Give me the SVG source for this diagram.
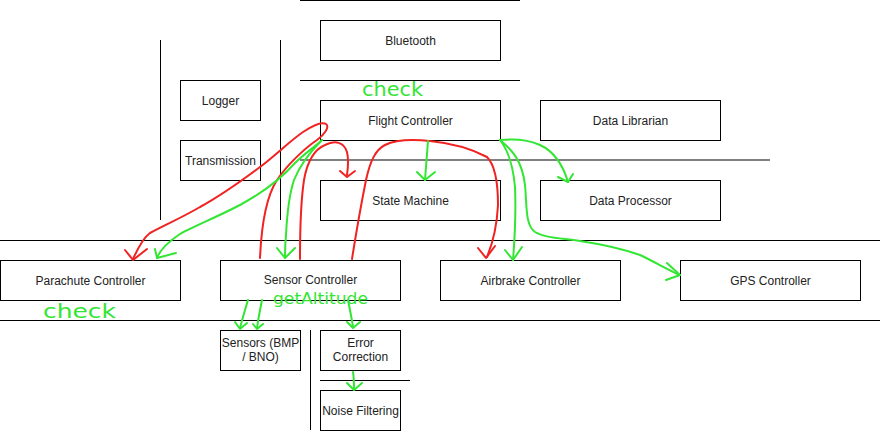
<svg xmlns="http://www.w3.org/2000/svg" width="882" height="432" viewBox="0 0 882 432">
<style>
.box{fill:#fff;stroke:#000;stroke-width:1}
.lbl{font-family:"Liberation Sans",Arial,sans-serif;font-size:12px;fill:#222;text-anchor:middle}
.sep{stroke:#000;stroke-width:1;fill:none}
.gsep{stroke:#808080;stroke-width:2;fill:none}
.r{stroke:#f02222;stroke-width:2;fill:none;stroke-linecap:round;stroke-linejoin:round}
.g{stroke:#33e633;stroke-width:2;fill:none;stroke-linecap:round;stroke-linejoin:round}
.hand{font-family:"DejaVu Sans",sans-serif;fill:#33e633;font-weight:normal}
</style>
<rect width="882" height="432" fill="#fff"/>
<g id="separators">
<line class="sep" x1="300" y1="0.5" x2="520" y2="0.5"/>
<line class="sep" x1="300" y1="80.5" x2="520" y2="80.5"/>
<line class="sep" x1="160.5" y1="40" x2="160.5" y2="220"/>
<line class="sep" x1="280.5" y1="40" x2="280.5" y2="220"/>
<line class="gsep" x1="300" y1="160" x2="770" y2="160"/>
<line class="sep" x1="0" y1="240.5" x2="880" y2="240.5"/>
<line class="sep" x1="0" y1="320.5" x2="880" y2="320.5"/>
<line class="sep" x1="310.5" y1="330" x2="310.5" y2="430"/>
<line class="sep" x1="320" y1="380.5" x2="410" y2="380.5"/>
</g>
<g id="bluetooth"><rect class="box" x="320.5" y="20.5" width="180" height="40"/><text class="lbl" x="410.5" y="45">Bluetooth</text></g>
<g id="logger"><rect class="box" x="180.5" y="80.5" width="80" height="40"/><text class="lbl" x="220.5" y="105">Logger</text></g>
<g id="transmission"><rect class="box" x="180.5" y="140.5" width="80" height="40"/><text class="lbl" x="220.5" y="165">Transmission</text></g>
<g id="flight-controller"><rect class="box" x="320.5" y="100.5" width="180" height="40"/><text class="lbl" x="410.5" y="125">Flight Controller</text></g>
<g id="data-librarian"><rect class="box" x="540.5" y="100.5" width="180" height="40"/><text class="lbl" x="630.5" y="125">Data Librarian</text></g>
<g id="state-machine"><rect class="box" x="320.5" y="180.5" width="180" height="40"/><text class="lbl" x="410.5" y="205">State Machine</text></g>
<g id="data-processor"><rect class="box" x="540.5" y="180.5" width="180" height="40"/><text class="lbl" x="630.5" y="205">Data Processor</text></g>
<g id="parachute-controller"><rect class="box" x="0.5" y="260.5" width="180" height="40"/><text class="lbl" x="90.5" y="285">Parachute Controller</text></g>
<g id="sensor-controller"><rect class="box" x="220.5" y="260.5" width="180" height="40"/><text class="lbl" x="310.5" y="284">Sensor Controller</text></g>
<g id="airbrake-controller"><rect class="box" x="440.5" y="260.5" width="180" height="40"/><text class="lbl" x="530.5" y="285">Airbrake Controller</text></g>
<g id="gps-controller"><rect class="box" x="680.5" y="260.5" width="180" height="40"/><text class="lbl" x="770.5" y="285">GPS Controller</text></g>
<g id="sensors"><rect class="box" x="220.5" y="330.5" width="80" height="40"/><text class="lbl" x="260.5" y="347">Sensors (BMP</text><text class="lbl" x="260.5" y="361">/ BNO)</text></g>
<g id="error-correction"><rect class="box" x="320.5" y="330.5" width="80" height="40"/><text class="lbl" x="360.5" y="347">Error</text><text class="lbl" x="360.5" y="361">Correction</text></g>
<g id="noise-filtering"><rect class="box" x="320.5" y="390.5" width="80" height="40"/><text class="lbl" x="360.5" y="415">Noise Filtering</text></g>
<g id="connectors">
<path class="r" d="M260,258 C261,235 264,200 277,180 C287,165 305,148 317,140 C324,135 330,127 326,124 C321,121 312,126 303,132 C290,141 277,154 260,167 C240,182 220,196 200,207 C183,217 165,225 150,233 C143,238 138,248 133,259"/>
<polyline class="r" points="125,250 133,260 147,249"/>
<path class="r" d="M300,259 C300,230 301,200 304,180 C307,163 313,150 325,145 C335,140 344,142 347,152 C349,160 348,168 347,175"/>
<polyline class="r" points="340,171 347,177 355,171"/>
<path class="r" d="M352,259 C355,240 360,210 366,180 C370,162 375,150 385,145 C395,140 410,139 430,141 C450,143 470,148 487,157 C496,166 498,185 498,205 C497,225 492,245 487,257"/>
<polyline class="r" points="478,248 486,258 495,246"/>
<path class="g" d="M322,140 C316,146 305,153 295,163 C280,180 262,193 240,205 C215,218 190,228 180,234 C168,242 160,250 157,258"/>
<polyline class="g" points="155,249 157,258 176,253"/>
<path class="g" d="M322,140 C312,150 300,165 294,180 C289,195 287,215 286,235 C285,245 285,252 285,258"/>
<polyline class="g" points="277,248 285,258 295,248"/>
<path class="g" d="M428,141 C427,155 426,168 425,180"/>
<polyline class="g" points="417,172 425,180 435,172"/>
<path class="g" d="M500,140 C510,139 525,138 540,145 C553,151 562,162 568,182"/>
<polyline class="g" points="558,177 568,182 573,174"/>
<path class="g" d="M500,140 C508,150 513,165 515,187 C516,210 515,235 513,260"/>
<polyline class="g" points="505,250 513,260 522,247"/>
<path class="g" d="M500,140 C512,150 522,160 525,185 C527,205 525,225 535,232 C545,238 560,238 580,241 C600,244 620,248 640,255 C655,262 668,270 680,275"/>
<polyline class="g" points="667,263 680,275 666,280"/>
<path class="g" d="M248,300 C245,310 242,320 240,328"/>
<polyline class="g" points="235,322 240,329 247,323"/>
<path class="g" d="M262,300 C260,310 258,320 257,328"/>
<polyline class="g" points="253,324 257,329 263,324"/>
<path class="g" d="M348,300 C350,310 352,320 353,327"/>
<polyline class="g" points="347,322 353,328 360,322"/>
<path class="g" d="M353,372 C354,378 354,384 354,389"/>
<polyline class="g" points="347,383 354,390 362,383"/>
</g>
<g id="annotations">
<text class="hand" x="362" y="96" font-size="20" textLength="61" lengthAdjust="spacingAndGlyphs">check</text>
<text class="hand" x="43" y="318" font-size="20" textLength="73" lengthAdjust="spacingAndGlyphs">check</text>
<text class="hand" x="273" y="304" font-size="16" textLength="95" lengthAdjust="spacingAndGlyphs">getAltitude</text>
</g>
</svg>
